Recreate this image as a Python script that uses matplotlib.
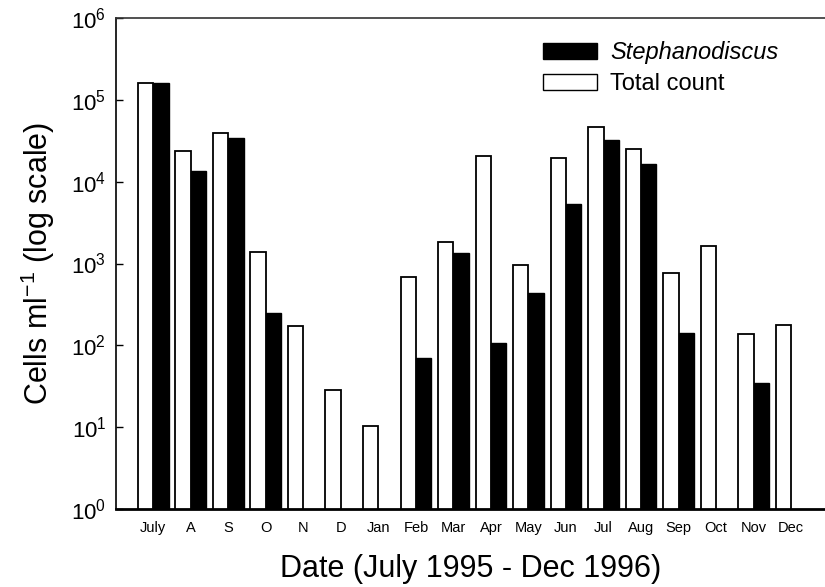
import numpy as np
import matplotlib
matplotlib.use("Agg")
import matplotlib.pyplot as plt
from matplotlib.patches import Patch

plt.rcParams['font.family'] = ['Liberation Sans', 'DejaVu Sans']
plt.rcParams['mathtext.fontset'] = 'custom'
plt.rcParams['mathtext.rm'] = 'Liberation Sans'
plt.rcParams['mathtext.default'] = 'regular'

# monthly samples, July 1995 - Dec 1996
months = ['July', 'A', 'S', 'O', 'N', 'D', 'Jan', 'Feb', 'Mar', 'Apr',
          'May', 'Jun', 'Jul', 'Aug', 'Sep', 'Oct', 'Nov', 'Dec']
total_count = [1.6e5, 2.4e4, 3.9e4, 1.38e3, 173, 28.5, 10.2, 690, 1.83e3,
               2.07e4, 960, 1.95e4, 4.7e4, 2.5e4, 767, 1.64e3, 138, 178]
stephanodiscus = [1.6e5, 1.35e4, 3.4e4, 250, np.nan, np.nan, np.nan, 70, 1.35e3,
                  107, 437, 5.4e3, 3.2e4, 1.65e4, 142, np.nan, 35, np.nan]

x = np.arange(len(months))
w = 0.41

fig = plt.figure(figsize=(8.25, 5.87), dpi=100)
ax = fig.add_axes([116/825, 78/587, 1 - 116/825, 491/587])

ax.bar(x - w/2, total_count, w, color='white', edgecolor='black', linewidth=1.3)
ax.bar(x + w/2, stephanodiscus, w, color='black', edgecolor='black', linewidth=1.0)

ax.set_yscale('log')
ax.set_ylim(1, 1e6)
ax.set_xlim(-0.99, 17.9)
ax.set_yticks([1, 1e1, 1e2, 1e3, 1e4, 1e5, 1e6])
ax.yaxis.set_minor_locator(matplotlib.ticker.NullLocator())
ax.tick_params(axis='y', direction='in', length=5, width=1.0, labelsize=16, pad=7)

ax.set_xticks(x)
ax.set_xticklabels(months, va='baseline')
ax.tick_params(axis='x', length=0, labelsize=10.5, pad=16.5)

ax.spines['right'].set_visible(False)
ax.spines['bottom'].set_linewidth(2.0)
ax.spines['left'].set_linewidth(1.2)
ax.spines['top'].set_linewidth(1.2)
ax.spines['top'].set_color('#333333')

ax.set_xlabel('Date (July 1995 - Dec 1996)', fontsize=22, labelpad=14)
ax.set_ylabel('Cells ml$^{-1}$ (log scale)', fontsize=22, labelpad=10)

handles = [Patch(facecolor='black', edgecolor='black'),
           Patch(facecolor='white', edgecolor='black', linewidth=1.0)]
leg = fig.legend(handles, ['Stephanodiscus', 'Total count'],
                 loc='upper left', bbox_to_anchor=(543/825, 1 - 41/587),
                 frameon=False, fontsize=17, handlelength=2.3, handleheight=0.65,
                 handletextpad=0.55, labelspacing=0.4, borderpad=0, borderaxespad=0)
leg.get_texts()[0].set_fontstyle('italic')

fig.savefig('out.png', dpi=100)
